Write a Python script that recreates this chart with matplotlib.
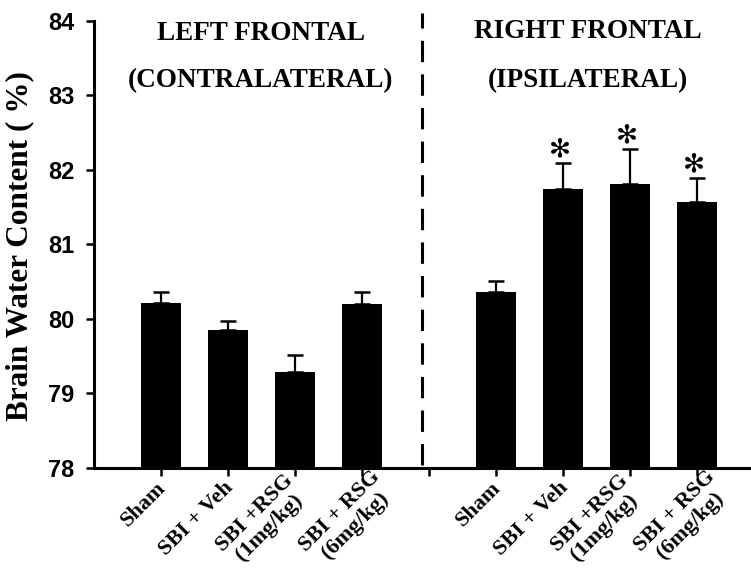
import matplotlib
matplotlib.use("Agg")
import matplotlib.pyplot as plt

# data
groups = ["Sham", "SBI + Veh", "SBI +RSG\n(1mg/kg)", "SBI + RSG\n(6mg/kg)"]
left_mean = [80.21, 79.85, 79.29, 80.20]
left_err = [0.15, 0.12, 0.22, 0.16]
right_mean = [80.36, 81.74, 81.81, 81.57]
right_err = [0.14, 0.35, 0.47, 0.32]
right_sig = [False, True, True, True]

left_x = [1, 2, 3, 4]
right_x = [6, 7, 8, 9]

serif = "Liberation Serif"
sans = "Liberation Sans"

fig = plt.figure(figsize=(7.51, 5.72), dpi=100)
ax = fig.add_axes([94 / 751, 0.1823, 1 - 94 / 751, 0.7817])

bw = 0.61
ax.bar(left_x, left_mean, width=bw, color="black", bottom=0)
ax.bar(right_x, right_mean, width=bw, color="black", bottom=0)
ax.errorbar(left_x, left_mean, yerr=[[0] * 4, left_err], fmt="none",
            ecolor="black", elinewidth=1.6, capsize=5.5, capthick=1.8)
ax.errorbar(right_x, right_mean, yerr=[[0] * 4, right_err], fmt="none",
            ecolor="black", elinewidth=1.6, capsize=5.5, capthick=1.8)

for x, m, e, s in zip(right_x, right_mean, right_err, right_sig):
    if s:
        ax.text(x - 0.04, m + e + 0.18, "\u273b", ha="center", va="center",
                fontsize=19, fontfamily="DejaVu Sans", fontweight="bold")

# divider between hemispheres
ax.plot([4.9, 4.9], [78.04, 84.1], color="black", lw=2.2,
        dashes=(7, 4), clip_on=False)

tkw = dict(ha="center", va="center", fontsize=19.5, fontfamily=serif,
           fontweight="bold")
ax.text(2.49, 83.83, "LEFT FRONTAL", **tkw)
ax.text(2.49, 83.20, "(CONTRALATERAL)", **tkw)
ax.text(7.37, 83.86, "RIGHT FRONTAL", **tkw)
ax.text(7.37, 83.20, "(IPSILATERAL)", **tkw)

ax.set_ylim(78, 84)
ax.set_xlim(0, 657 / 67)
ax.set_yticks([78, 79, 80, 81, 82, 83, 84])
ax.set_yticklabels(["78", "79", "80", "81", "82", "83", "84"],
                   fontfamily=sans, fontweight="bold", fontsize=17)
ax.set_xticks(left_x + [5] + right_x)
ax.set_xticklabels([])

# group labels under the ticks; the 6mg/kg ones sit a bit to the right
for xs in (left_x, right_x):
    for x, g in zip(xs, groups):
        off = (15, -8) if "6mg" in g else (0, -11)
        ax.annotate(g, xy=(x, 0), xycoords=("data", "axes fraction"),
                    xytext=off, textcoords="offset points",
                    rotation=45, ha="right", va="center_baseline",
                    rotation_mode="anchor", multialignment="center",
                    linespacing=1.05, fontfamily=serif, fontweight="bold",
                    fontsize=16, annotation_clip=False)

ax.spines["top"].set_visible(False)
ax.spines["right"].set_visible(False)
ax.spines["left"].set_linewidth(2.2)
ax.spines["bottom"].set_linewidth(2.2)
ax.tick_params(axis="y", length=6, width=1.8, pad=8)
ax.tick_params(axis="x", length=6, width=1.8)

fig.text(20 / 751, 1 - 246 / 572, "Brain Water Content ( %)", rotation=90,
         ha="center", va="center", fontsize=22.5, fontfamily=serif,
         fontweight="bold")

fig.savefig("out.png", dpi=100)
